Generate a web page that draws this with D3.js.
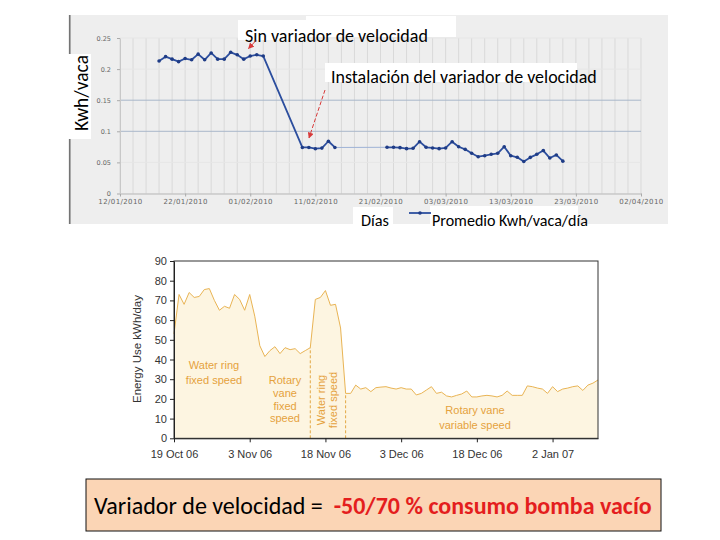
<!DOCTYPE html>
<html><head><meta charset="utf-8">
<script src="https://cdn.jsdelivr.net/npm/d3@7"></script>
<style>body{margin:0;background:#fff}svg{display:block}text{white-space:pre}</style>
</head><body><svg id="c" width="720" height="540"></svg>
<script>
// ---------- Top chart data (Kwh/vaca per day) ----------
const etiquetasFecha = ["12/01/2010","22/01/2010","01/02/2010","11/02/2010","21/02/2010","03/03/2010","13/03/2010","23/03/2010","02/04/2010"];
const ticksVaca = [0, 0.05, 0.1, 0.15, 0.2, 0.25];
const inicioA = "2010-01-18";
const kwhA = [0.213,0.220,0.216,0.212,0.217,0.215,0.224,0.215,0.226,0.216,0.216,0.227,0.223,0.216,0.221,0.223,0.221];
const inicioB = "2010-02-09";
const kwhB = [0.074,0.074,0.072,0.073,0.084,0.074];
const inicioC = "2010-02-22";
const kwhC = [0.0743,0.0743,0.0737,0.0721,0.0727,0.0833,0.0743,0.0732,0.0721,0.0732,0.0833,0.0752,0.0710,0.0646,
              0.0592,0.0608,0.0630,0.0646,0.0752,0.0608,0.0582,0.0515,0.058,0.063,0.069,0.057,0.062,0.052];

// ---------- Bottom chart data (Energy Use kWh/day) ----------
const etiquetasEnergia = ["19 Oct 06","3 Nov 06","18 Nov 06","3 Dec 06","18 Dec 06","2 Jan 07"];
const ticksEnergia = [0,10,20,30,40,50,60,70,80,90];
const inicioEnergia = "2006-10-19";
const energia = [53,73,68,74,71.5,72,75.5,76,70,65,67,66,73,70.5,65,73,62,47,41.5,44.5,46.5,43,46,45,45.5,43,44.5,46,
  70.5,71.5,75,67.5,68,56,
  22.8,22.8,27,25,25.7,23.7,25.7,26,26.2,25.5,25,25.7,25,25,22,22.8,24.5,26.2,22.8,23.4,21.5,21,21.8,22.5,24,21,21,
  21.5,21.8,21.5,21,21.8,24,21.8,21.8,21.8,26.6,26.2,25.5,25,22.8,26.2,23.7,25,25.5,26.2,26.6,24.3,27,28,29.6];
const cambios = ["2006-11-15","2006-11-22"];

const svg = d3.select("#c");
const iso = d3.timeParse("%Y-%m-%d");
const calib = "Carlito, Lato, 'Open Sans', sans-serif";
const arial = "'Liberation Sans', Arial, sans-serif";

function fit(sel, w){
  const n = sel.node(); const L = n.getComputedTextLength();
  if (L > 0) sel.attr("font-size", parseFloat(sel.attr("font-size")) * w / L);
  return sel;
}

// ================= TOP CHART =================
svg.append("rect").attr("x",68).attr("y",15).attr("width",600).attr("height",209).attr("fill","#eeeeee");
svg.append("line").attr("x1",69.8).attr("x2",69.8).attr("y1",15).attr("y2",224).attr("stroke","#666").attr("stroke-width",1.4);

const pf = d3.timeParse("%d/%m/%Y");
const fechasTicks = etiquetasFecha.map(pf);
const xT = d3.scaleTime().domain([fechasTicks[0], fechasTicks[fechasTicks.length-1]]).range([120,641]);
const yT = d3.scaleLinear().domain([0,0.25]).range([193.5,38]);

// vertical grid every 2 days
const gridDias = d3.timeDay.range(xT.domain()[0], d3.timeDay.offset(xT.domain()[1],1), 2);
svg.append("g").selectAll("line").data(gridDias).join("line")
  .attr("x1",d=>xT(d)).attr("x2",d=>xT(d)).attr("y1",yT(0.25)).attr("y2",yT(0))
  .attr("stroke","#d9d9d9").attr("stroke-width",1);
// horizontal grid
svg.append("g").selectAll("line").data(ticksVaca.filter(t=>t>0)).join("line")
  .attr("x1",xT.range()[0]).attr("x2",xT.range()[1]).attr("y1",d=>yT(d)).attr("y2",d=>yT(d))
  .attr("stroke",d=>(d===0.1||d===0.15)?"#a9b7ca":"#e6e6e6").attr("stroke-width",1);

const gxT = svg.append("g").attr("transform","translate(0,193.5)")
  .call(d3.axisBottom(xT).tickValues(fechasTicks).tickFormat(d3.timeFormat("%d/%m/%Y")).tickSize(3).tickSizeOuter(0).tickPadding(3));
gxT.select(".domain").attr("stroke","#b5b5b5");
gxT.selectAll(".tick line").attr("stroke","#aaa");
gxT.selectAll("text").attr("font-family","'DejaVu Sans', sans-serif").attr("font-size",7).attr("fill","#666").attr("letter-spacing",0.4);

const gyT = svg.append("g").attr("transform","translate(120,0)")
  .call(d3.axisLeft(yT).tickValues(ticksVaca).tickFormat(d=>String(d)).tickSize(3).tickSizeOuter(0).tickPadding(6));
gyT.select(".domain").attr("stroke","#c8c8c8");
gyT.selectAll(".tick line").attr("stroke","#aaa");
gyT.selectAll("text").attr("font-family","'DejaVu Sans', sans-serif").attr("font-size",6.5).attr("fill","#666");

const serie = (inicio, vals) => vals.map((v,i)=>({d:d3.timeDay.offset(iso(inicio),i), v}));
const sA = serie(inicioA,kwhA), sB = serie(inicioB,kwhB), sC = serie(inicioC,kwhC);
const lineT = d3.line().x(p=>xT(p.d)).y(p=>yT(p.v));
const azul = "#2c4e9e";
svg.append("path").attr("d",lineT([sB[sB.length-1], sC[0]])).attr("fill","none").attr("stroke","#9fb3d6").attr("stroke-width",1);
svg.append("path").attr("d",lineT(sA.concat(sB))).attr("fill","none").attr("stroke",azul).attr("stroke-width",1.8).attr("stroke-linejoin","round");
svg.append("path").attr("d",lineT(sC)).attr("fill","none").attr("stroke",azul).attr("stroke-width",1.8).attr("stroke-linejoin","round");
svg.append("g").selectAll("circle").data(sA.concat(sB,sC)).join("circle")
  .attr("cx",p=>xT(p.d)).attr("cy",p=>yT(p.v)).attr("r",1.8).attr("fill","#1f3c86");

// annotation boxes
svg.append("rect").attr("x",238).attr("y",20).attr("width",70).attr("height",20).attr("fill","#fff");
svg.append("rect").attr("x",306).attr("y",16).attr("width",150).attr("height",21).attr("fill","#fff");
svg.append("rect").attr("x",325).attr("y",63).attr("width",252).attr("height",19).attr("fill","#fff");
svg.append("rect").attr("x",68).attr("y",54).attr("width",23).attr("height",85).attr("fill","#fff");
svg.append("rect").attr("x",353).attr("y",207).attr("width",40).attr("height",22).attr("fill","#fff");
svg.append("rect").attr("x",430).attr("y",206).attr("width",148).attr("height",23).attr("fill","#fff");

fit(svg.append("text").attr("x",245).attr("y",42).attr("font-family",calib).attr("font-size",16).attr("fill","#000").text("Sin variador de velocidad"),183);
fit(svg.append("text").attr("x",331).attr("y",83).attr("font-family",calib).attr("font-size",16).attr("fill","#000").text("Instalación del variador de velocidad"),266);
fit(svg.append("text").attr("transform","translate(88,93) rotate(-90)").attr("text-anchor","middle")
  .attr("font-family",calib).attr("font-size",15).attr("fill","#000").text("Kwh/vaca"),76);
fit(svg.append("text").attr("x",361).attr("y",226).attr("font-family",calib).attr("font-size",15).attr("fill","#000").text("Días"),28);
fit(svg.append("text").attr("x",432).attr("y",226).attr("font-family",calib).attr("font-size",15).attr("fill","#000").text("Promedio Kwh/vaca/día"),156);
// legend symbol
svg.append("line").attr("x1",409).attr("x2",431).attr("y1",213).attr("y2",213).attr("stroke",azul).attr("stroke-width",1.8);
svg.append("circle").attr("cx",420).attr("cy",213).attr("r",1.8).attr("fill","#1f3c86");

// red arrows
const defs = svg.append("defs");
defs.append("marker").attr("id","ah").attr("viewBox","0 0 10 10").attr("refX",9).attr("refY",5)
  .attr("markerWidth",6).attr("markerHeight",6).attr("orient","auto")
  .append("path").attr("d","M0,0 L10,5 L0,10 z").attr("fill","#d83a3a");
svg.append("line").attr("x1",256).attr("y1",40.5).attr("x2",248.5).attr("y2",48.5).attr("stroke","#d83a3a").attr("stroke-width",1).attr("marker-end","url(#ah)");
svg.append("line").attr("x1",325).attr("y1",90).attr("x2",309).attr("y2",138).attr("stroke","#d83a3a").attr("stroke-width",1).attr("stroke-dasharray","4,2").attr("marker-end","url(#ah)");

// ================= BOTTOM CHART =================
const pe = d3.timeParse("%d %b %y");
const fechasE = energia.map((v,i)=>d3.timeDay.offset(iso(inicioEnergia),i));
const xB = d3.scaleTime().domain([fechasE[0], fechasE[fechasE.length-1]]).range([174,598]);
const yB = d3.scaleLinear().domain([0,90]).range([438.3,261]);
const datosE = energia.map((v,i)=>({d:fechasE[i], v}));

svg.append("path").attr("d", d3.area().x(p=>xB(p.d)).y0(yB(0)).y1(p=>yB(p.v))(datosE)).attr("fill","#fdf5e1");
svg.append("path").attr("d", d3.line().x(p=>xB(p.d)).y(p=>yB(p.v))(datosE)).attr("fill","none").attr("stroke","#e9b454").attr("stroke-width",1);
svg.append("g").selectAll("line").data(cambios).join("line")
  .attr("x1",d=>xB(iso(d))).attr("x2",d=>xB(iso(d))).attr("y1",yB(0))
  .attr("y2",d=>{const p=datosE.find(q=>+q.d===+iso(d)); return yB(p.v);})
  .attr("stroke","#e2a844").attr("stroke-width",1).attr("stroke-dasharray","3,2");

svg.append("rect").attr("x",174).attr("y",261).attr("width",424).attr("height",177.3).attr("fill","none").attr("stroke","#333").attr("stroke-width",1);

const gxB = svg.append("g").attr("transform","translate(0,438.3)")
  .call(d3.axisBottom(xB).tickValues(etiquetasEnergia.map(pe)).tickFormat(d3.timeFormat("%-d %b %y")).tickSize(4).tickSizeOuter(0).tickPadding(8));
gxB.select(".domain").attr("stroke","#222");
gxB.selectAll(".tick line").attr("stroke","#222");
gxB.selectAll("text").attr("font-family",arial).attr("font-size",11).attr("fill","#333");

const gyB = svg.append("g").attr("transform","translate(174,0)")
  .call(d3.axisLeft(yB).tickValues(ticksEnergia).tickSize(4).tickSizeOuter(0).tickPadding(3));
gyB.select(".domain").attr("stroke","#222");
gyB.selectAll(".tick line").attr("stroke","#222");
gyB.selectAll("text").attr("font-family",arial).attr("font-size",11).attr("fill","#333");

svg.append("text").attr("transform","translate(140.5,349) rotate(-90)").attr("text-anchor","middle")
  .attr("font-family",arial).attr("font-size",11.5).attr("fill","#333").text("Energy Use kWh/day");

const naranja = "#e5a23d";
const lbl = (x,y,t)=>svg.append("text").attr("x",x).attr("y",y).attr("text-anchor","middle").attr("dominant-baseline","central")
  .attr("font-family",arial).attr("font-size",11).attr("fill",naranja).text(t);
lbl(214,365,"Water ring"); lbl(214,380,"fixed speed");
lbl(285,380,"Rotary"); lbl(285,392.7,"vane"); lbl(285,405.5,"fixed"); lbl(285,418.3,"speed");
lbl(475,410,"Rotary vane"); lbl(475,425,"variable speed");
svg.append("text").attr("transform","translate(321,400) rotate(-90)").attr("text-anchor","middle").attr("dominant-baseline","central")
  .attr("font-family",arial).attr("font-size",11).attr("fill",naranja).text("Water ring");
svg.append("text").attr("transform","translate(333,400) rotate(-90)").attr("text-anchor","middle").attr("dominant-baseline","central")
  .attr("font-family",arial).attr("font-size",11).attr("fill",naranja).text("fixed speed");

// ================= SUMMARY BOX =================
svg.append("rect").attr("x",86).attr("y",479).attr("width",575).attr("height",52).attr("fill","#fbd5b5").attr("stroke","#111").attr("stroke-width",1);
const tb = svg.append("text").attr("x",94).attr("y",514).attr("font-family",calib).attr("font-size",22);
tb.append("tspan").attr("fill","#000").text("Variador de velocidad =  ");
tb.append("tspan").attr("fill","#e41e1e").attr("font-weight","bold").text("-50/70 % consumo bomba vacío");
fit(tb,558);
</script></body></html>
